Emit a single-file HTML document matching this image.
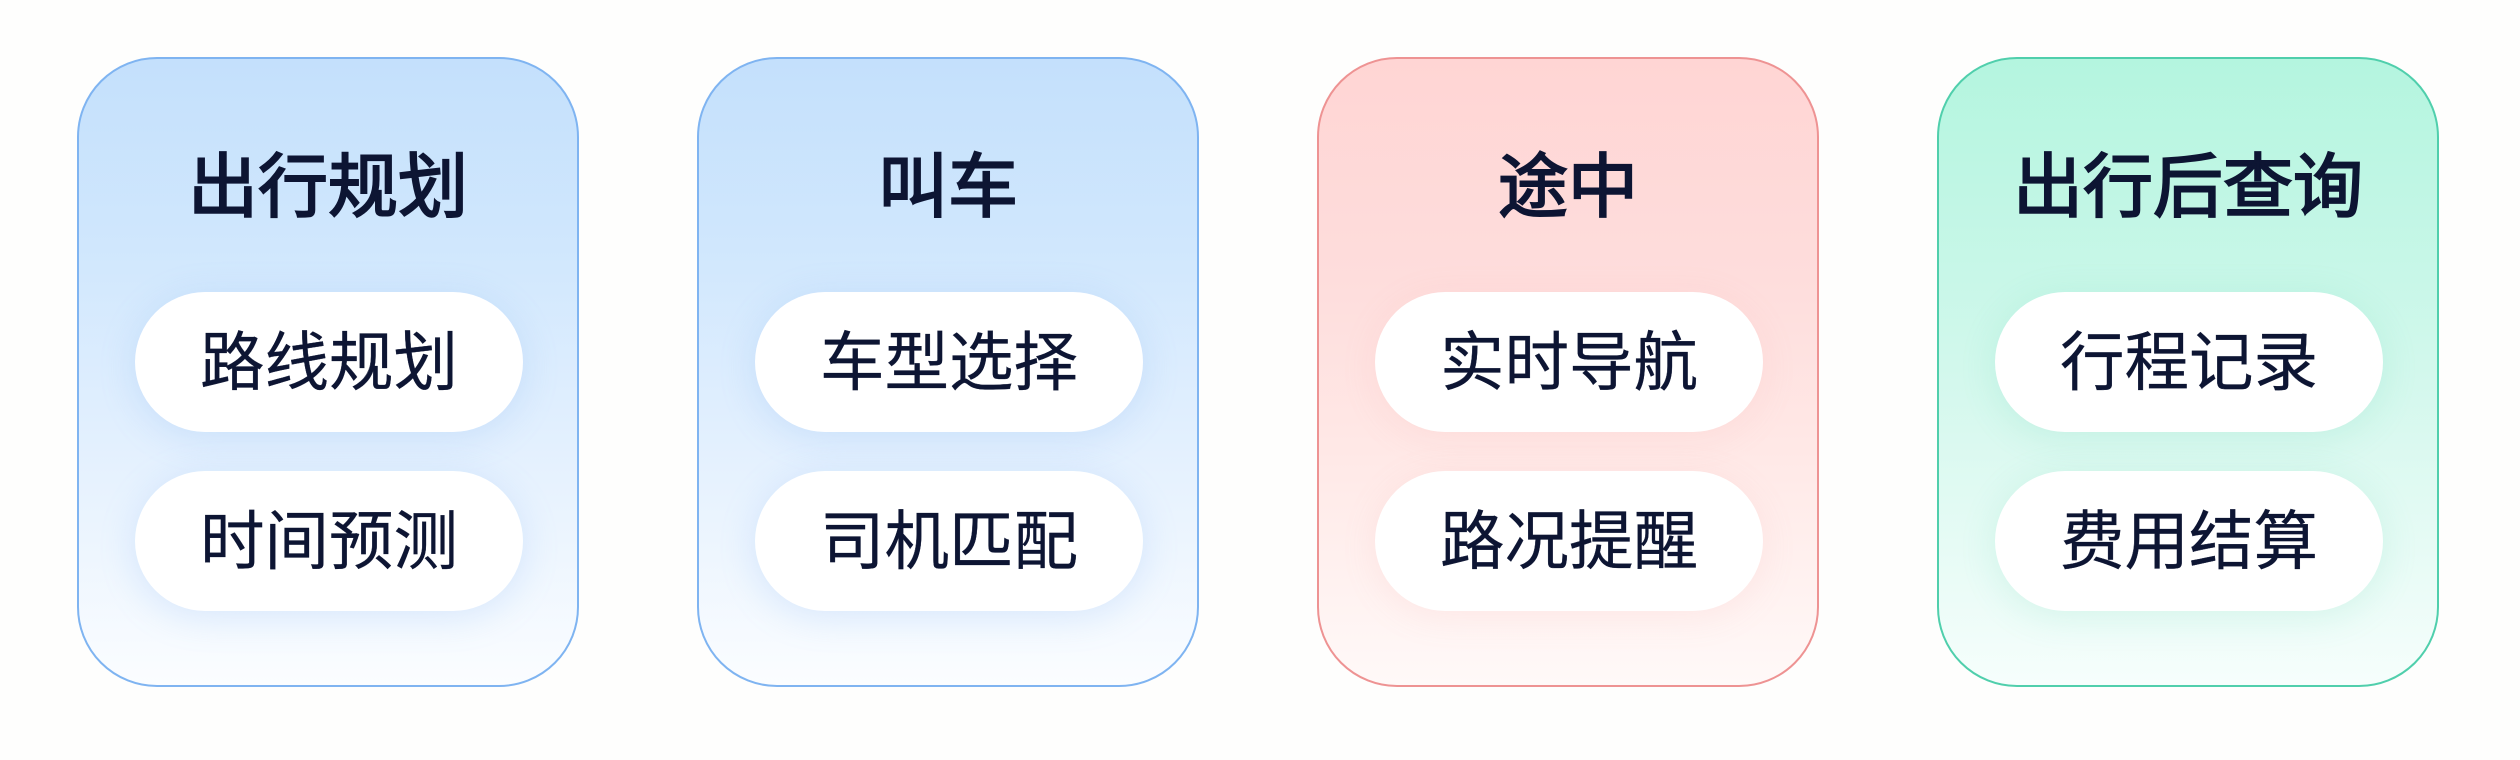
<!DOCTYPE html>
<html lang="zh-CN">
<head>
<meta charset="utf-8">
<style>
html,body{margin:0;padding:0}
body{width:2520px;height:760px;background:#fefefd;position:relative;overflow:hidden;font-family:"Liberation Sans","Noto Sans CJK SC",sans-serif;color:#0d1533}
.card{position:absolute;top:57px;width:498px;height:626px;border-radius:80px;border:2px solid}
.blue{background:linear-gradient(180deg,#c4e0fc 0%,#d0e7fd 30%,#e3f0fe 62%,#fbfdff 100%);border-color:#7fb4f1}
.red{background:linear-gradient(180deg,#ffd5d4 0%,#fedddc 35%,#ffe8e6 62%,#fff9f8 100%);border-color:#ee9393}
.green{background:linear-gradient(180deg,#b4f5df 0%,#c8f7e8 35%,#dbf9f0 62%,#f6fefc 100%);border-color:#50cfac}
.title{position:absolute;left:-2px;top:76px;width:502px;height:104px;line-height:104px;text-align:center;font-size:70px;font-weight:400;-webkit-text-stroke:2px #0d1533}
.pill{position:absolute;left:56px;width:388px;height:140px;border-radius:70px;background:#fff;text-align:center;line-height:142px;font-size:64.5px;font-weight:400;-webkit-text-stroke:.3px #0d1533}
.blue .pill{box-shadow:0 6px 36px rgba(120,175,240,.22)}
.red .pill{box-shadow:0 6px 36px rgba(240,150,150,.12)}
.green .pill{box-shadow:0 6px 36px rgba(80,205,170,.16)}
.p1{top:233px}
.p2{top:412px}
</style>
</head>
<body>
<div class="card blue" style="left:77px"><div class="title">出行规划</div><div class="pill p1">路线规划</div><div class="pill p2">时间预测</div></div>
<div class="card blue" style="left:697px"><div class="title">叫车</div><div class="pill p1">车型选择</div><div class="pill p2">司机匹配</div></div>
<div class="card red" style="left:1317px"><div class="title">途中</div><div class="pill p1">实时导航</div><div class="pill p2">路况提醒</div></div>
<div class="card green" style="left:1937px"><div class="title">出行后查询</div><div class="pill p1">行程记录</div><div class="pill p2">费用结算</div></div>
</body>
</html>
